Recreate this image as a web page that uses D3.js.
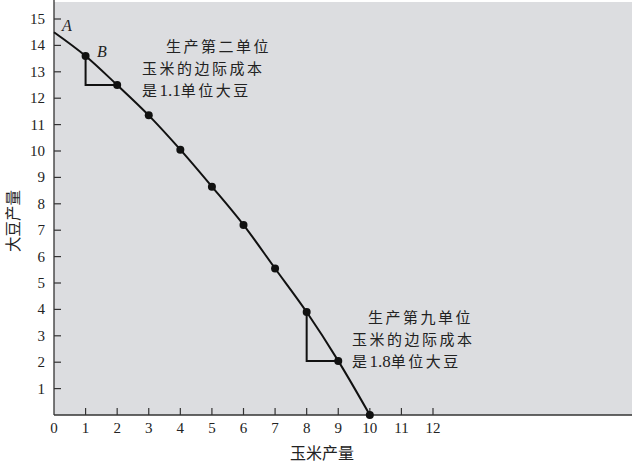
<!DOCTYPE html>
<html><head><meta charset="utf-8">
<script src="https://cdn.jsdelivr.net/npm/d3@7/dist/d3.min.js"></script>
<style>body{margin:0;background:#fff}svg{display:block}</style>
</head><body>
<svg id="c" width="634" height="464"></svg>
<script>
const cornX = [0,1,2,3,4,5,6,7,8,9,10];
const soyY = [14.5,13.6,12.5,11.35,10.05,8.65,7.2,5.55,3.9,2.05,0];
const xTicks = [0,1,2,3,4,5,6,7,8,9,10,11,12];
const yTicks = [1,2,3,4,5,6,7,8,9,10,11,12,13,14,15];
const xTitle = "玉米产量";
const yTitle = "大豆产量";
const note1 = ["生产第二单位","玉米的边际成本","是1.1单位大豆"];
const note2 = ["生产第九单位","玉米的边际成本","是1.8单位大豆"];

const svg = d3.select("#c");
const x = d3.scaleLinear().domain([0,12]).range([54,433]);
const y = d3.scaleLinear().domain([0,15]).range([415,19]);
const serif = "'Liberation Serif','Times New Roman',serif";
const cjk = "'Noto Sans CJK SC','Noto Sans CJK TC',sans-serif";

svg.append("rect").attr("x",54).attr("y",2).attr("width",578).attr("height",413).attr("fill","#dcdde0");

// axes
svg.append("line").attr("x1",54).attr("x2",54).attr("y1",0).attr("y2",415).attr("stroke","#333").attr("stroke-width",1.3);
svg.append("line").attr("x1",54).attr("x2",632).attr("y1",415).attr("y2",415).attr("stroke","#333").attr("stroke-width",1.3);

svg.selectAll(".yt").data(yTicks).enter().append("line")
  .attr("x1",54).attr("x2",61).attr("y1",d=>y(d)).attr("y2",d=>y(d)).attr("stroke","#333").attr("stroke-width",1.2);
svg.selectAll(".ytl").data(yTicks).enter().append("text")
  .attr("x",45).attr("y",d=>y(d)+5).attr("text-anchor","end")
  .attr("font-family",serif).attr("font-size",15).attr("fill","#222").text(d=>d);

svg.selectAll(".xt").data(xTicks.filter(d=>d>0)).enter().append("line")
  .attr("x1",d=>x(d)).attr("x2",d=>x(d)).attr("y1",415).attr("y2",408).attr("stroke","#333").attr("stroke-width",1.2);
svg.selectAll(".xtl").data(xTicks).enter().append("text")
  .attr("x",d=>x(d)).attr("y",433).attr("text-anchor","middle")
  .attr("font-family",serif).attr("font-size",15).attr("fill","#222").text(d=>d);

svg.append("text").attr("x",322).attr("y",459).attr("text-anchor","middle")
  .attr("font-family",cjk).attr("font-size",16).attr("fill","#222").text(xTitle);
svg.append("text").attr("transform","translate(19,221) rotate(-90)").attr("text-anchor","middle")
  .attr("font-family",cjk).attr("font-size",15.5).attr("fill","#222").text(yTitle);

// curve
const pts = cornX.map((d,i)=>[d,soyY[i]]);
svg.append("path").datum(pts)
  .attr("d",d3.line().x(d=>x(d[0])).y(d=>y(d[1])).curve(d3.curveMonotoneX))
  .attr("fill","none").attr("stroke","#111").attr("stroke-width",2);

// triangles
function tri(i){
  svg.append("path")
    .attr("d",`M${x(cornX[i])},${y(soyY[i])}V${y(soyY[i+1])}H${x(cornX[i+1])}`)
    .attr("fill","none").attr("stroke","#111").attr("stroke-width",2);
}
tri(1); tri(8);

svg.selectAll(".pt").data(pts.slice(1)).enter().append("circle")
  .attr("cx",d=>x(d[0])).attr("cy",d=>y(d[1])).attr("r",4).attr("fill","#111");

svg.append("text").attr("x",62).attr("y",31).attr("font-family",serif).attr("font-style","italic")
  .attr("font-size",16).attr("fill","#222").text("A");
svg.append("text").attr("x",97).attr("y",57).attr("font-family",serif).attr("font-style","italic")
  .attr("font-size",16).attr("fill","#222").text("B");

function note(lines, xs, ys){
  lines.forEach((t,i)=>{
    const tx = svg.append("text").attr("x",xs[i]).attr("y",ys[i]).attr("fill","#222");
    const runs = t.match(/[0-9.]+|[^0-9.]+/g);
    runs.forEach(r=>{
      const isNum = /^[0-9.]+$/.test(r);
      tx.append("tspan").attr("font-family",isNum?serif:cjk)
        .attr("font-size",isNum?17:15).attr("letter-spacing",isNum?0:2.5).text(r);
    });
  });
}
note(note1,[166,142,142],[52,74,96]);
note(note2,[368,352,352],[323,345,367]);
</script>
</body></html>
